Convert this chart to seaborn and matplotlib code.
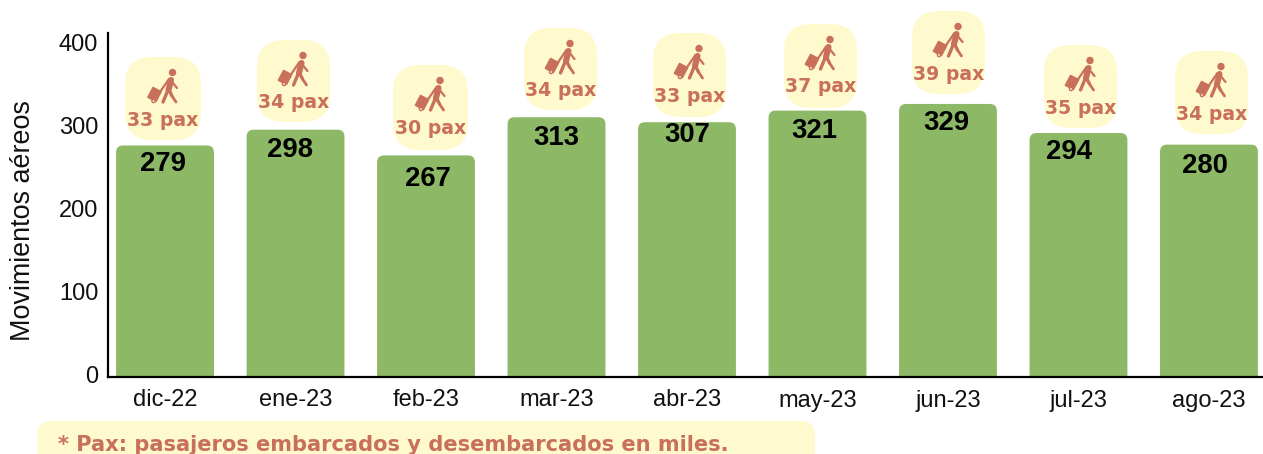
import matplotlib
matplotlib.use("Agg")
import matplotlib.pyplot as plt
import pandas as pd
import seaborn as sns
from matplotlib.patches import Circle, FancyBboxPatch, Rectangle
from matplotlib.transforms import Affine2D, ScaledTranslation

# ---- Data -------------------------------------------------------------------
meses = ["dic-22", "ene-23", "feb-23", "mar-23", "abr-23", "may-23", "jun-23", "jul-23", "ago-23"]
movimientos = [279, 298, 267, 313, 307, 321, 329, 294, 280]
pax = [33, 34, 30, 34, 33, 37, 39, 35, 34]

# ---- Layout of the annotations, in pixels of the 1263x454 canvas ------------
burbuja_x = [125, 257, 393, 524, 653, 784, 912, 1044, 1175]
burbuja_top = [57, 40, 65, 28, 33, 24, 11, 45, 51]
burbuja_w = [76, 73, 75, 73, 73, 73, 73, 73, 73]
burbuja_h = [83, 82, 85, 82, 84, 84, 83, 83, 83]
valor_x = [163, 290, 428, 556, 687, 814, 946, 1069, 1205]
valor_y = [164, 150, 179, 138, 135, 131, 123, 152, 166]

VERDE = "#8DB966"
CREMA = "#FFF9CE"
TERRA = "#C8705A"
W, H = 1263, 454

df = pd.DataFrame({"mes": meses, "movimientos": movimientos})

sns.set_style("white")
plt.rcParams["font.family"] = ["Liberation Sans", "DejaVu Sans"]

fig = plt.figure(figsize=(W / 100, H / 100), dpi=100)
ax = fig.add_axes([108 / W, 1 - 377 / H, (W - 108) / W, (377 - 33) / H])
sns.barplot(data=df, x="mes", y="movimientos", color=VERDE, width=0.75, saturation=1, ax=ax)

ax.set_xlim(-0.437, 8.414)
ax.set_ylim(0, 414.5)

# rounded top corners: swap each bar for a rounded box that runs under the axis
px_x = 130.5
px_y = 344 / 414.5
radio = 7
for bar in list(ax.patches):
    x0, w, h = bar.get_x(), bar.get_width(), bar.get_height()
    bar.set_visible(False)
    r = radio / px_x
    ry = radio / px_y
    ax.add_patch(FancyBboxPatch(
        (x0 + r, -40), w - 2 * r, h + 40 - ry,
        boxstyle=f"round,pad={r},rounding_size={r}",
        mutation_aspect=ry / r,
        fc=VERDE, ec="none", clip_on=True))

ax.set_yticks([0, 100, 200, 300, 400])
ax.tick_params(axis="both", length=0, labelsize=17, labelcolor="#111111")
ax.tick_params(axis="x", pad=9)
ax.tick_params(axis="y", pad=7)
ax.set_xlabel("")
ax.set_ylabel("Movimientos aéreos", fontsize=19.4, color="#111111")
ax.yaxis.set_label_coords(-0.0623, 0.456)
sns.despine(ax=ax)
for s in ["left", "bottom"]:
    ax.spines[s].set_linewidth(1.6)
    ax.spines[s].set_color("black")
for lab in ax.get_yticklabels():
    lab.set_transform(lab.get_transform() + ScaledTranslation(0, 2 / 72, fig.dpi_scale_trans))

# ---- Overlay in canvas pixels for bubbles, icons and the footnote ------------
ov = fig.add_axes([0, 0, 1, 1], facecolor="none")
ov.set_xlim(0, W)
ov.set_ylim(H, 0)
ov.axis("off")


def caminante(cx, top):
    """Walking passenger with a suitcase; cx is the bubble centre, top its top edge."""
    oy = top + 45
    lw = dict(color=TERRA, solid_capstyle="round")
    ov.add_patch(Circle((cx + 9.5, oy - 29.5), 3.7, fc=TERRA, ec="none"))
    ov.plot([cx + 8, cx + 5.5], [oy - 22, oy - 12], lw=4.4, **lw)          # torso
    ov.plot([cx + 5, cx + 0], [oy - 12, oy + 0], lw=2.4, **lw)             # back leg
    ov.plot([cx + 6, cx + 9], [oy - 12, oy - 6], lw=2.4, **lw)             # front thigh
    ov.plot([cx + 9, cx + 13], [oy - 6, oy + 0], lw=2.0, **lw)             # front shin
    ov.plot([cx + 10, cx + 14], [oy - 19, oy - 14], lw=1.6, **lw)          # front arm
    ov.plot([cx + 6, cx - 3], [oy - 23, oy - 10], lw=1.6, **lw)            # back arm
    caja = Rectangle((cx - 13, oy - 13), 9, 11, fc=TERRA, ec=TERRA, lw=1.2, joinstyle="round")
    caja.set_transform(Affine2D().rotate_deg_around(cx - 8.5, oy - 7.5, 28) + ov.transData)
    ov.add_patch(caja)
    ov.add_patch(Circle((cx - 9.5, oy - 1), 1.6, fc=CREMA, ec=TERRA, lw=1))


for x, top, w, h, p, vx, vy, v in zip(burbuja_x, burbuja_top, burbuja_w, burbuja_h, pax,
                                      valor_x, valor_y, movimientos):
    r = 27
    ov.add_patch(FancyBboxPatch((x + r, top + r), w - 2 * r, h - 2 * r,
                                boxstyle=f"round,pad={r},rounding_size={r}",
                                fc=CREMA, ec="none"))
    caminante(x + w / 2, top)
    ov.text(x + w / 2, top + 63, f"{p} pax", ha="center", va="center", color=TERRA,
            fontsize=13.6, fontweight="bold", family=["DejaVu Sans"])
    ov.text(vx, vy, str(v), ha="center", va="center", color="black",
            fontsize=19.8, fontweight="bold")

ov.add_patch(FancyBboxPatch((51, 435), 750, 60, boxstyle="round,pad=14,rounding_size=14",
                            fc=CREMA, ec="none"))
ov.text(58, 445, "* Pax: pasajeros embarcados y desembarcados en miles.", ha="left", va="center",
        color=TERRA, fontsize=15.1, fontweight="bold", family=["DejaVu Sans"])

fig.savefig("out.png", dpi=100)
